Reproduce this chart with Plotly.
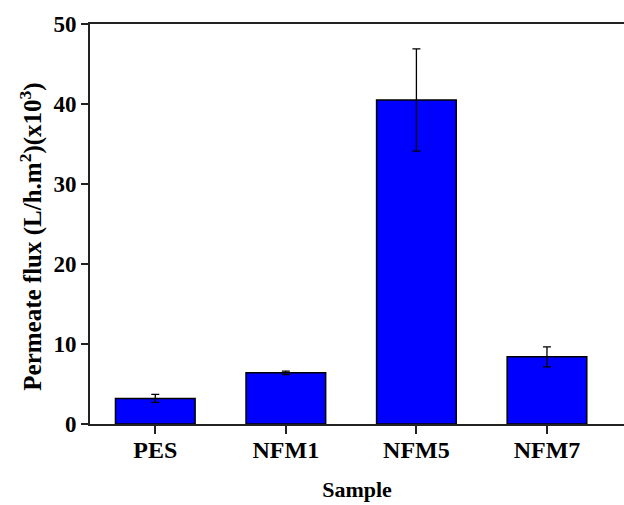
import plotly.graph_objects as go

samples = ["PES", "NFM1", "NFM5", "NFM7"]
flux = [3.2, 6.4, 40.5, 8.4]
flux_err = [0.5, 0.22, 6.4, 1.25]
y_ticks = [0, 10, 20, 30, 40, 50]
y_title = "<b>Permeate flux (L/h.m<sup>2</sup>)(x10<sup>3</sup>)</b>"
x_title = "<b>Sample</b>"

font_family = "Liberation Serif"

fig = go.Figure()
fig.add_trace(go.Bar(
    x=samples,
    y=flux,
    width=0.61,
    marker=dict(color="#0000FF", line=dict(color="#000000", width=1.5)),
    error_y=dict(type="data", array=flux_err, visible=True,
                 color="#000000", thickness=1.3, width=4),
    showlegend=False,
))

fig.update_layout(
    width=624, height=505,
    margin=dict(l=90, r=0, t=24, b=81),
    paper_bgcolor="white", plot_bgcolor="white",
    font=dict(family=font_family, color="black"),
    bargap=0.39,
)
fig.add_annotation(
    text=y_title, textangle=-90,
    xref="paper", yref="paper", x=-0.111, y=0.4675,
    xanchor="center", yanchor="middle", showarrow=False,
    font=dict(family=font_family, size=25, color="black"),
)
fig.update_xaxes(
    type="category",
    range=[-0.5, 3.59],
    showline=True, linecolor="#222222", linewidth=2, mirror=True,
    ticks="outside", ticklen=8, tickwidth=1.5, tickcolor="#222222",
    tickfont=dict(family=font_family, size=24, color="black", weight="bold"),
    ticklabelstandoff=-5,
    title=dict(text=x_title, font=dict(family=font_family, size=22), standoff=20),
    showgrid=False, zeroline=False,
)
fig.update_yaxes(
    range=[0, 50],
    tickvals=y_ticks,
    showline=True, linecolor="#222222", linewidth=2,
    ticks="outside", ticklen=7, tickwidth=1.5, tickcolor="#222222",
    tickfont=dict(family=font_family, size=23, color="black", weight="bold"),
    showgrid=False, zeroline=False,
)

fig.write_html("out.html")
